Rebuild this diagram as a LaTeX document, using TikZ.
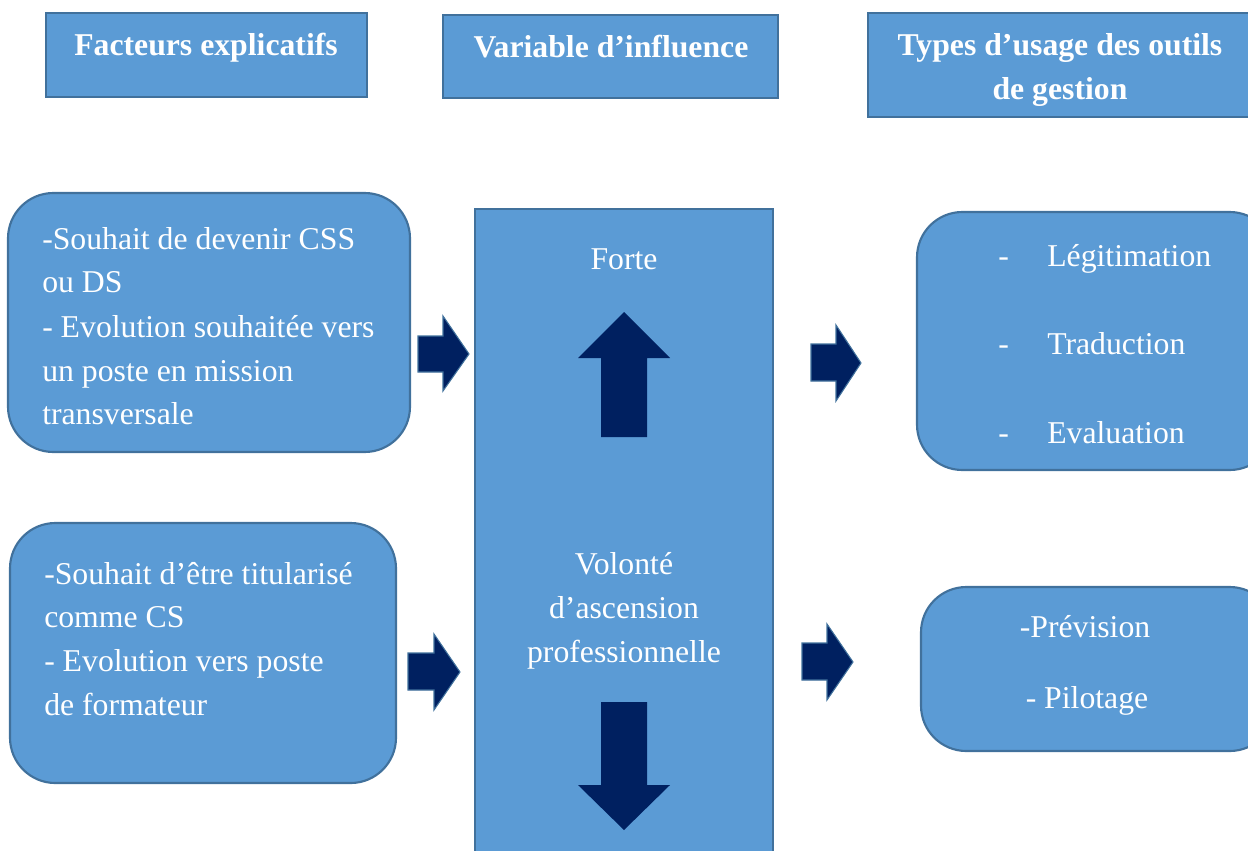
\documentclass[tikz,border=0pt]{standalone}
\usepackage{fontspec}
\setmainfont{Liberation Serif}
\definecolor{boxfill}{HTML}{5B9BD5}
\definecolor{boxline}{HTML}{41719C}
\definecolor{arrowfill}{HTML}{002060}
\begin{document}
\begin{tikzpicture}[x=0.75pt,y=-0.75pt,
  box/.style={fill=boxfill,draw=boxline,line width=1.6pt},
  rbox/.style={box,rounded corners=34pt},
  txt/.style={text=white,font=\fontsize{23.8}{28}\selectfont,inner sep=0pt,text height=0.68em,text depth=0.22em,yshift=-5.3pt},
  htxt/.style={text=white,font=\bfseries\fontsize{23.8}{28}\selectfont,inner sep=0pt,text height=0.68em,text depth=0.22em,yshift=-4.5pt},
  blockarrow/.style={fill=arrowfill,draw=boxline,line width=0.8pt,line join=miter}]
\useasboundingbox (0,0) rectangle (1248,850);
\begin{scope}
\clip (0,0) rectangle (1248,850);
% header boxes
\draw[box] (46,13) rectangle (367,97);
\draw[box] (443,15) rectangle (778,98);
\draw[box] (868,13) rectangle (1262,117);
% left boxes
\draw[rbox] (8,193) rectangle (410,452);
\draw[rbox] (10,523) rectangle (396,783);
% centre column
\draw[box] (475,209) rectangle (773,870);
% right boxes
\draw[rbox] (917,212) rectangle (1275,470);
\draw[rbox] (921,587) rectangle (1275,751);
% block arrows right
\draw[blockarrow] (418,336) -- (443,336) -- (443,316) -- (469,354) -- (443,391) -- (443,372) -- (418,372) -- cycle;
\draw[blockarrow] (408,653) -- (434,653) -- (434,634) -- (460,672) -- (434,710) -- (434,690) -- (408,690) -- cycle;
\draw[blockarrow] (811,344) -- (836,344) -- (836,325) -- (861,363) -- (836,401) -- (836,381) -- (811,381) -- cycle;
\draw[blockarrow] (802,643) -- (827,643) -- (827,624) -- (853,662) -- (827,700) -- (827,680) -- (802,680) -- cycle;
% up and down arrows
\fill[arrowfill] (601,437) -- (601,358) -- (578,358) -- (624,312) -- (670,358) -- (647,358) -- (647,437) -- cycle;
\fill[arrowfill] (601,702) -- (647,702) -- (647,785) -- (670,785) -- (624,830) -- (578,785) -- (601,785) -- cycle;
\end{scope}
% header texts
\node[htxt] (h1) at (206,46) {Facteurs explicatifs};
\node[htxt] (h2) at (611,48) {Variable d’influence};
\node[htxt] (h3a) at (1060,46) {Types d’usage des outils};
\node[htxt] (h3b) at (1060,90) {de gestion};
% left box 1
\node[txt,anchor=west] (l1a) at (42,239) {-Souhait de devenir CSS};
\node[txt,anchor=west] (l1b) at (42,282) {ou DS};
\node[txt,anchor=west] (l1c) at (42,327) {- Evolution souhaitée vers};
\node[txt,anchor=west] (l1d) at (42,371) {un poste en mission};
\node[txt,anchor=west] (l1e) at (42,414) {transversale};
% left box 2
\node[txt,anchor=west] (l2a) at (44,574) {-Souhait d’être titularisé};
\node[txt,anchor=west] (l2b) at (44,617) {comme CS};
\node[txt,anchor=west] (l2c) at (44,661) {- Evolution vers poste};
\node[txt,anchor=west] (l2d) at (44,705) {de formateur};
% centre
\node[txt] (c1) at (624,259) {Forte};
\node[txt] (c2) at (624,564) {Volonté};
\node[txt] (c3) at (624,608) {d’ascension};
\node[txt] (c4) at (624,652) {professionnelle};
% right box 1
\node[txt,anchor=west] (d1) at (998,256) {-};
\node[txt,anchor=west] (r1) at (1047,256) {Légitimation};
\node[txt,anchor=west] (d2) at (998,344) {-};
\node[txt,anchor=west] (r2) at (1047,344) {Traduction};
\node[txt,anchor=west] (d3) at (998,433) {-};
\node[txt,anchor=west] (r3) at (1047,433) {Evaluation};
% right box 2
\node[txt] (p1) at (1085,627) {-Prévision};
\node[txt] (p2) at (1087,698) {- Pilotage};
\end{tikzpicture}
\end{document}
